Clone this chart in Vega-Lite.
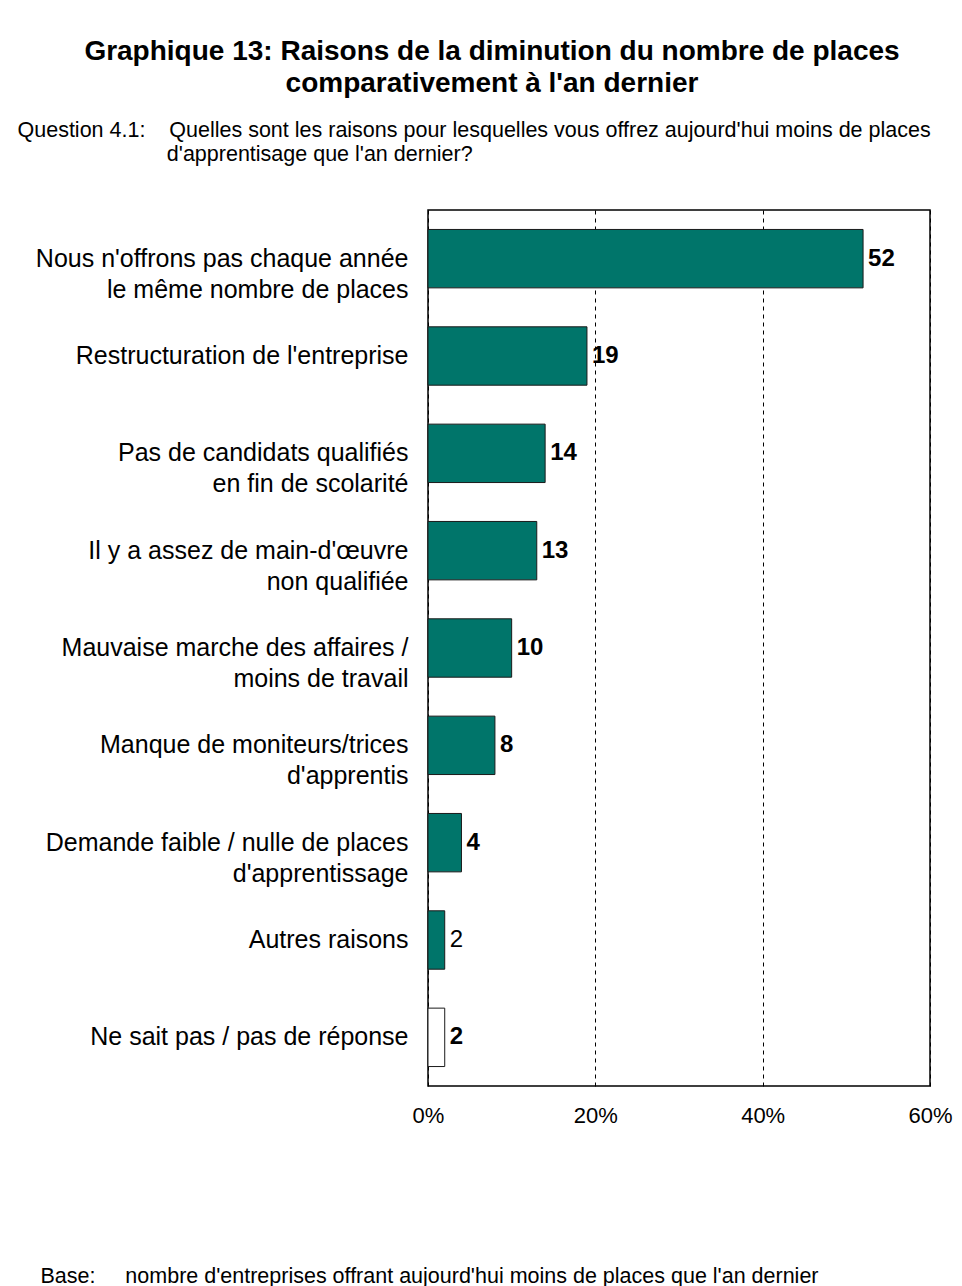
{
  "$schema": "https://vega.github.io/schema/vega-lite/v6.json",
  "width": 502,
  "height": 876,
  "autosize": {"type": "none"},
  "padding": {"left": 428, "top": 210, "right": 32, "bottom": 200},
  "background": "white",
  "title": {
    "text": ["Graphique 13: Raisons de la diminution du nombre de places", "comparativement à l'an dernier"],
    "font": "Liberation Sans",
    "fontSize": 28,
    "fontWeight": "bold",
    "color": "black",
    "lineHeight": 32,
    "anchor": "middle",
    "frame": "group",
    "dx": -187,
    "offset": 21
  },
  "config": {
    "view": {"stroke": "black", "strokeWidth": 1.5},
    "font": "Liberation Sans"
  },
  "data": {
    "values": [
      {"raison": "Nous n'offrons pas chaque année|le même nombre de places", "pct": 52},
      {"raison": "Restructuration de l'entreprise", "pct": 19},
      {"raison": "Pas de candidats qualifiés|en fin de scolarité", "pct": 14},
      {"raison": "Il y a assez de main-d'œuvre|non qualifiée", "pct": 13},
      {"raison": "Mauvaise marche des affaires /|moins de travail", "pct": 10},
      {"raison": "Manque de moniteurs/trices|d'apprentis", "pct": 8},
      {"raison": "Demande faible / nulle de places|d'apprentissage", "pct": 4},
      {"raison": "Autres raisons", "pct": 2},
      {"raison": "Ne sait pas / pas de réponse", "pct": 2}
    ]
  },
  "encoding": {
    "y": {
      "field": "raison",
      "type": "nominal",
      "sort": null,
      "scale": {"paddingInner": 0.4, "paddingOuter": 0.2},
      "axis": {
        "title": ["Question 4.1:\u00a0\u00a0\u00a0\u00a0Quelles sont les raisons pour lesquelles vous offrez aujourd'hui moins de places", "\u200b\u00a0\u00a0\u00a0\u00a0\u00a0\u00a0\u00a0\u00a0\u00a0\u00a0\u00a0\u00a0\u00a0\u00a0\u00a0\u00a0\u00a0\u00a0\u00a0\u00a0\u00a0\u00a0\u00a0\u00a0\u00a0d'apprentisage que l'an dernier?"],
        "titleAngle": 0,
        "titleX": -411,
        "titleY": -74,
        "titleAlign": "left",
        "titleBaseline": "alphabetic",
        "titleAnchor": null,
        "titleFont": "Liberation Sans",
        "titleFontSize": 21.5,
        "titleFontWeight": "normal",
        "titleColor": "black",
        "titleLineHeight": 24,
        "domain": false,
        "ticks": false,
        "labelExpr": "split(datum.label, '|')",
        "labelFont": "Liberation Sans",
        "labelFontSize": 25,
        "labelColor": "black",
        "labelLineHeight": 31,
        "labelPadding": 20,
        "labelLimit": 420
      }
    }
  },
  "layer": [
    {
      "mark": {"type": "bar", "stroke": "#1a1a1a", "strokeWidth": 1},
      "encoding": {
        "x": {
          "field": "pct",
          "type": "quantitative",
          "scale": {"domain": [0, 60], "nice": false},
          "axis": {
            "values": [0, 20, 40, 60],
            "labelExpr": "datum.value + '%'",
            "labelFont": "Liberation Sans",
            "labelFontSize": 22,
            "labelColor": "black",
            "labelPadding": 19,
            "labelFlush": false,
            "domain": false,
            "ticks": false,
            "grid": true,
            "gridColor": "black",
            "gridDash": [4, 4],
            "gridWidth": 1,
            "gridOpacity": 1,
            "title": "Base:\u00a0\u00a0\u00a0\u00a0\u00a0nombre d'entreprises offrant aujourd'hui moins de places que l'an dernier",
            "titleX": -388,
            "titleY": 196,
            "titleAlign": "left",
            "titleAnchor": null,
            "titleBaseline": "alphabetic",
            "titleFont": "Liberation Sans",
            "titleFontSize": 21.5,
            "titleFontWeight": "normal",
            "titleColor": "black"
          }
        },
        "color": {
          "condition": {"test": "datum.raison == 'Ne sait pas / pas de réponse'", "value": "white"},
          "value": "#00756A"
        }
      }
    },
    {
      "transform": [{"filter": "datum.raison != 'Autres raisons'"}],
      "mark": {"type": "text", "align": "left", "baseline": "middle", "dx": 5, "font": "Liberation Sans", "fontSize": 24, "fontWeight": "bold", "color": "black"},
      "encoding": {
        "x": {"field": "pct", "type": "quantitative"},
        "text": {"field": "pct", "type": "quantitative"}
      }
    },
    {
      "transform": [{"filter": "datum.raison == 'Autres raisons'"}],
      "mark": {"type": "text", "align": "left", "baseline": "middle", "dx": 5, "font": "Liberation Sans", "fontSize": 24, "fontWeight": "normal", "color": "black"},
      "encoding": {
        "x": {"field": "pct", "type": "quantitative"},
        "text": {"field": "pct", "type": "quantitative"}
      }
    }
  ]
}
